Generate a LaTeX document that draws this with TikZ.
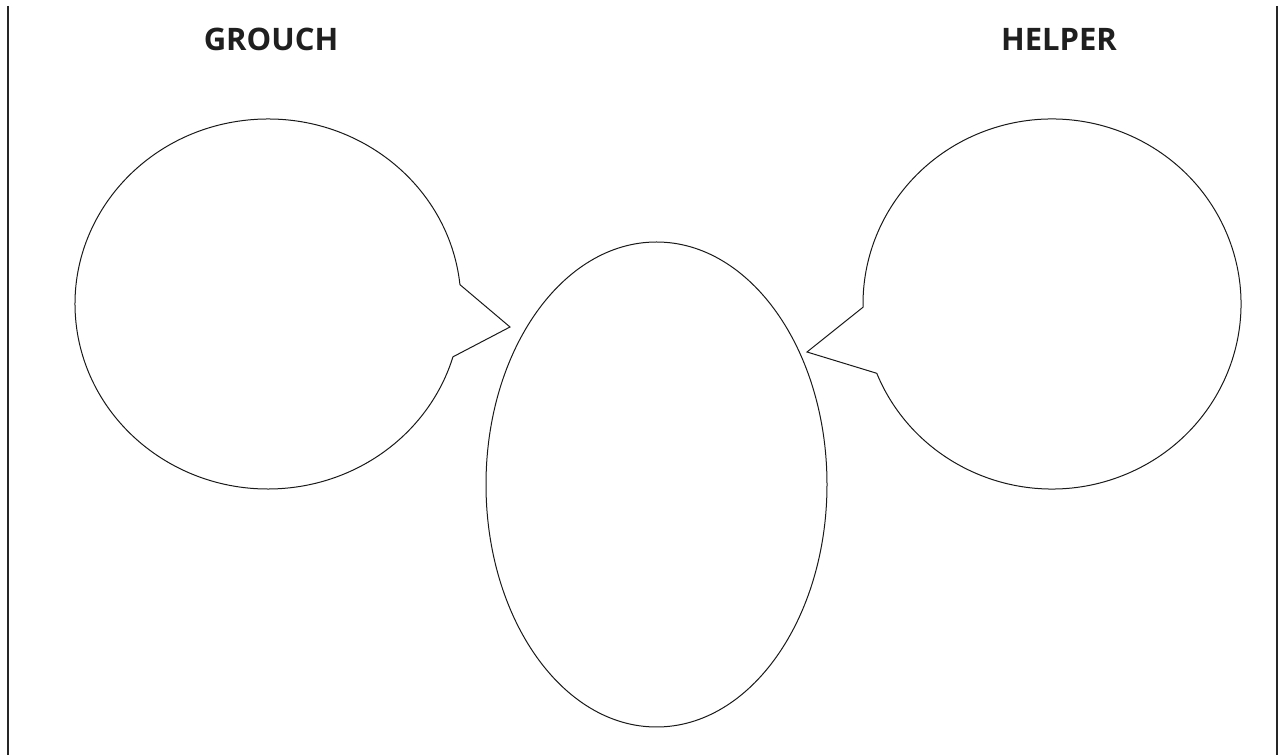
\documentclass[tikz,border=0pt]{standalone}
\usepackage{fontspec}
\setmainfont{Open Sans}
\usetikzlibrary{shapes.geometric}
\begin{document}
\begin{tikzpicture}[x=1pt,y=1pt,
  frame/.style={line width=1.3pt,draw=black!85},
  outline/.style={line width=1pt,draw=black!90},
  title/.style={font=\fontsize{31}{36}\selectfont\bfseries,text=black!88,inner sep=0pt,anchor=base}]
\useasboundingbox (0,0) rectangle (1278,755);
% frame lines
\coordinate (ltop) at (8,749);
\coordinate (lbot) at (8,0);
\coordinate (rtop) at (1277,749);
\coordinate (rbot) at (1277,0);
\draw[frame] (ltop) -- (lbot);
\draw[frame] (rtop) -- (rbot);
% titles
\node[title] (grouch) at (271,704.5) {GROUCH};
\node[title] (helper) at (1059,704.5) {HELPER};
% centers
\coordinate (lc) at (268,451);
\coordinate (rc) at (1052,451);
\coordinate (ltip) at (510,428);
\coordinate (rtip) at (807,403);
% left bubble
\draw[outline,line join=miter] (lc) ++(6:193 and 185) coordinate (lstart)
  arc[start angle=6,end angle=343.4,x radius=193,y radius=185] -- (ltip) -- (lstart);
% right bubble
\draw[outline,line join=miter] (rc) ++(202:189 and 185) coordinate (rstart)
  arc[start angle=202,end angle=541,x radius=189,y radius=185] -- (rtip) -- (rstart);
% center oval
\node[ellipse,outline,minimum width=341pt,minimum height=485pt,inner sep=0pt] (egg) at (656.5,270.5) {};
\end{tikzpicture}
\end{document}
